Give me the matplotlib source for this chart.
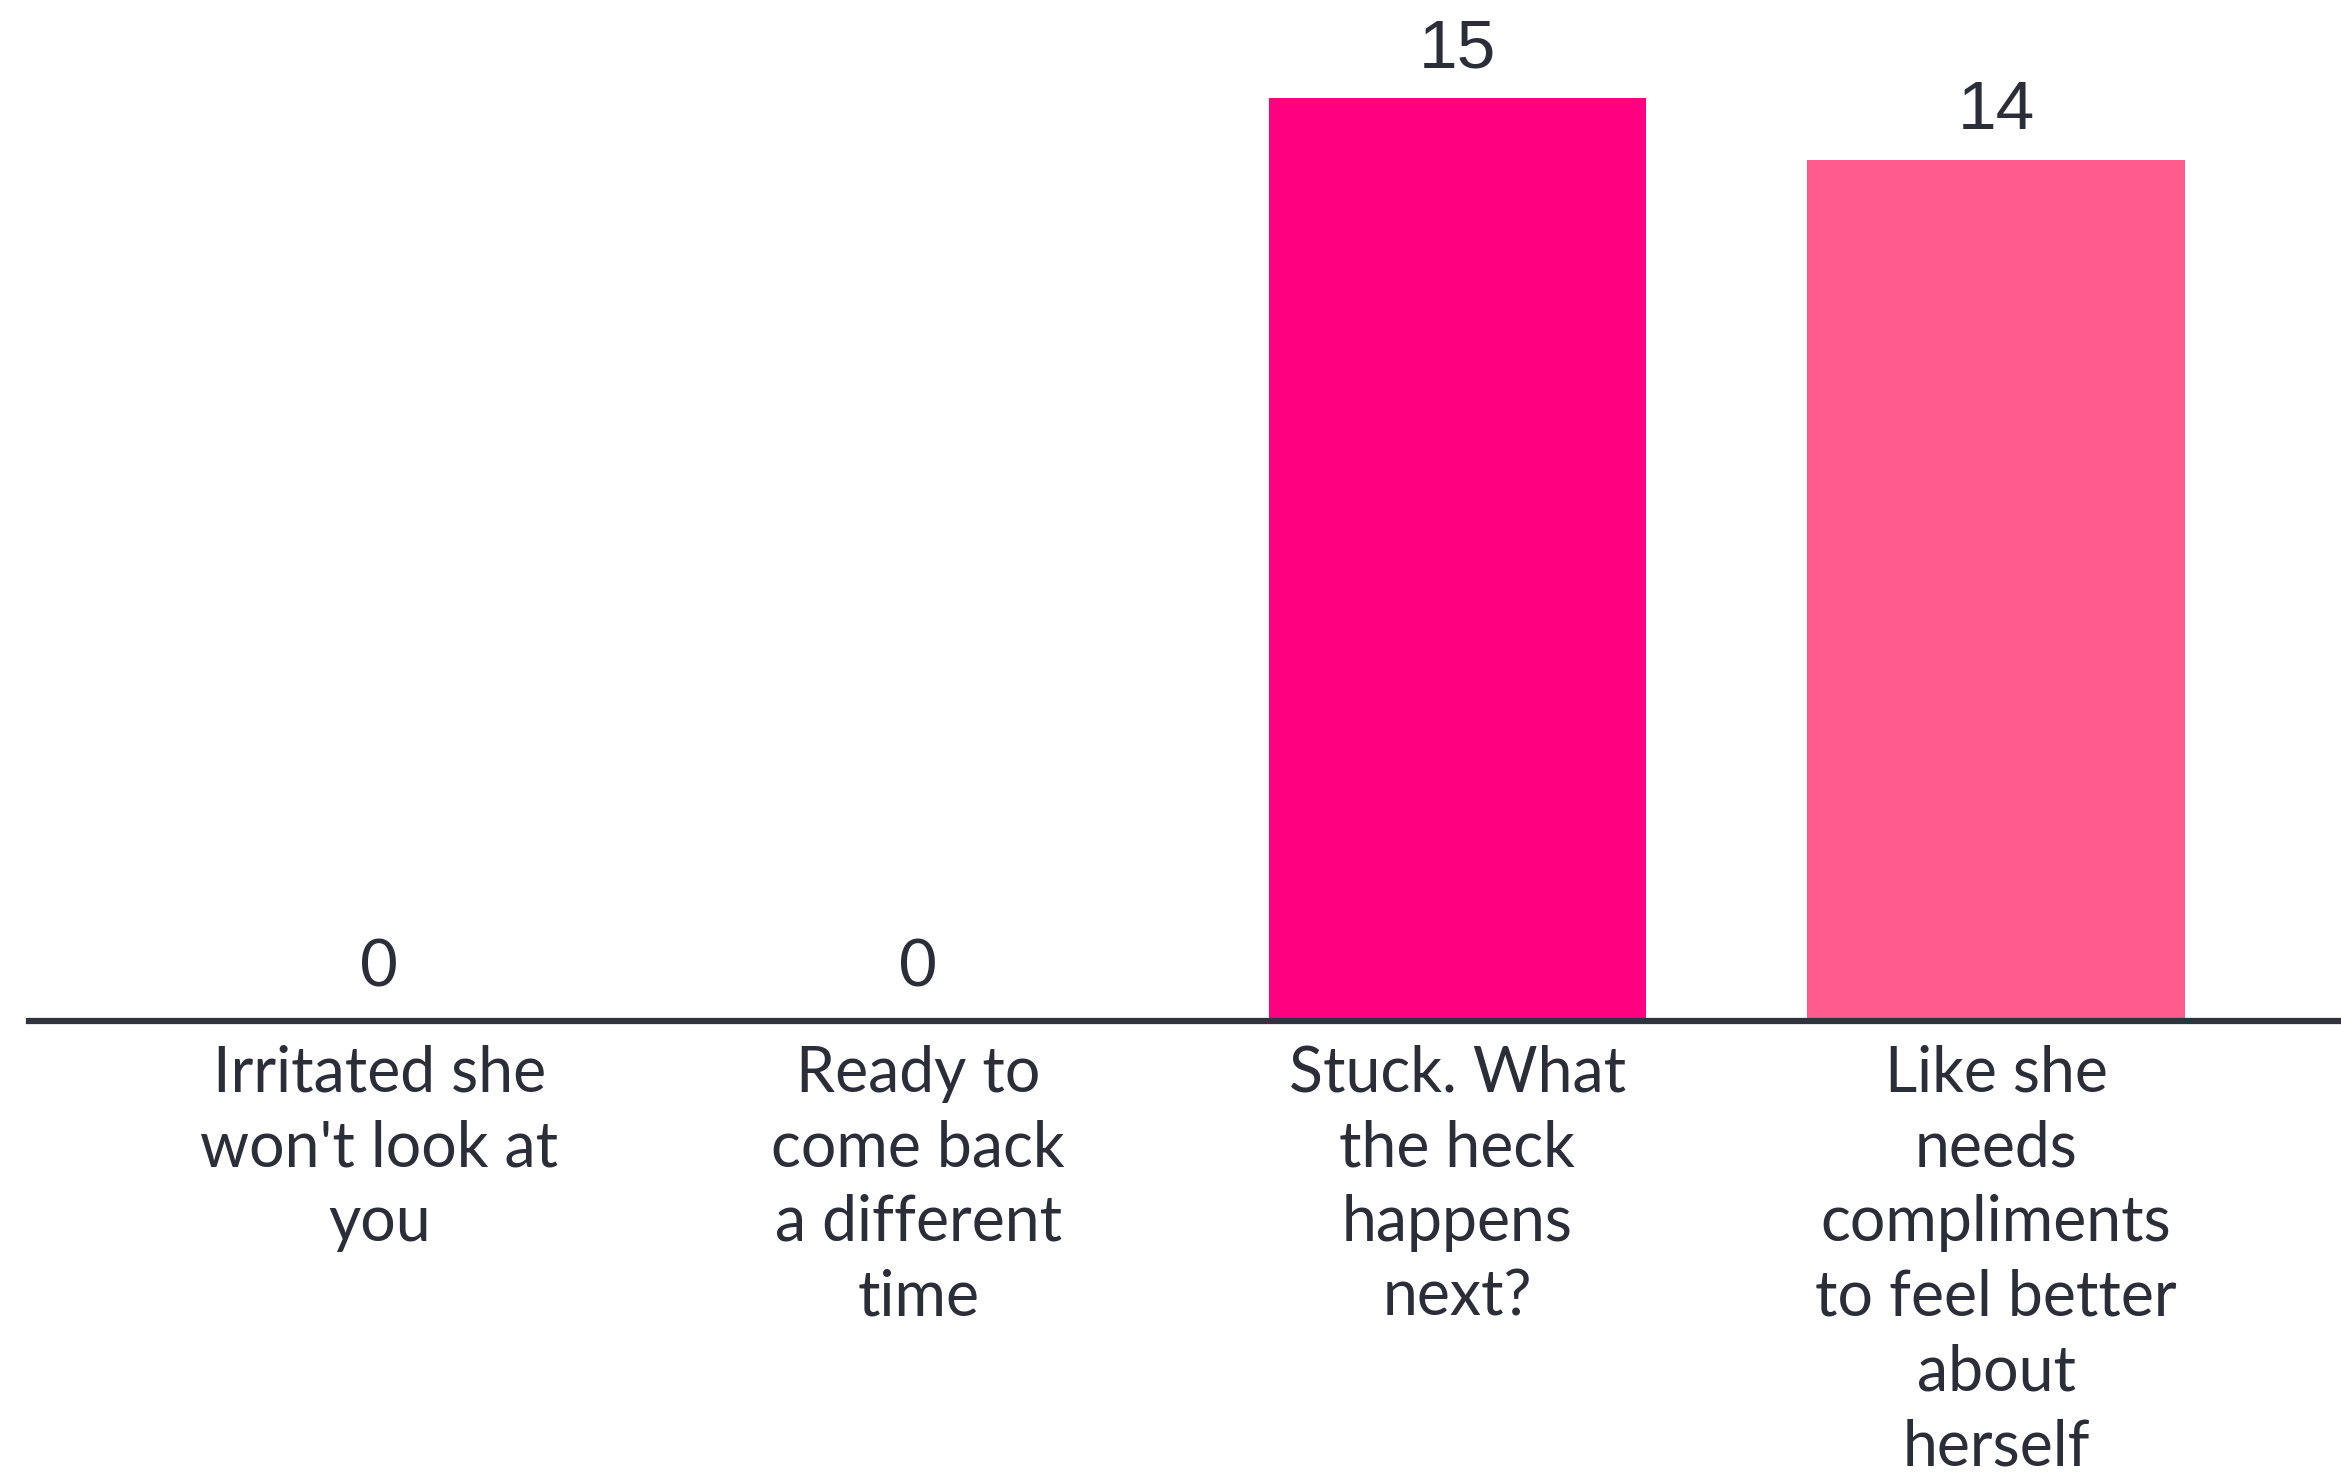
import matplotlib
matplotlib.use("Agg")
import matplotlib.pyplot as plt

categories = ["Irritated she\nwon't look at\nyou",
              "Ready to\ncome back\na different\ntime",
              "Stuck. What\nthe heck\nhappens\nnext?",
              "Like she\nneeds\ncompliments\nto feel better\nabout\nherself"]
values = [0, 0, 15, 14]
colors = ["#FF0080", "#FF0080", "#FF0080", "#FF5C8D"]

text_color = "#2B2E38"
W, H = 2341, 1484
fig = plt.figure(figsize=(W / 100, H / 100), dpi=100)
ax = fig.add_axes([29 / W, (H - 1021) / H, 1 - 29 / W, (1021 - 98.5) / H])

x = list(range(len(categories)))
bars = ax.bar(x, values, width=0.7, color=colors, zorder=2)
ax.set_xlim(-0.65, 3.64)
ax.set_ylim(0, 15)

for s in ["top", "right", "left"]:
    ax.spines[s].set_visible(False)
ax.spines["bottom"].set_color("#30333D")
ax.spines["bottom"].set_linewidth(4.5)
ax.spines["bottom"].set_zorder(3)
ax.set_yticks([])
ax.set_xticks(x)
ax.set_xticklabels(categories, fontsize=45, family="Lato", color=text_color,
                   linespacing=1.355, va="top")
ax.tick_params(axis="x", length=0, pad=17)

for xi, v in zip(x, values):
    if v == 0:
        ax.annotate(str(v), (xi, v), xytext=(0, 17), textcoords="offset points",
                    ha="center", va="bottom", fontsize=47, family="Lato",
                    color=text_color, clip_on=False)
    else:
        ax.annotate(str(v), (xi, v), xytext=(0, 12), textcoords="offset points",
                    ha="center", va="bottom", fontsize=50, family="Liberation Sans",
                    color=text_color, clip_on=False)

fig.savefig("out.png", dpi=100, facecolor="white")
